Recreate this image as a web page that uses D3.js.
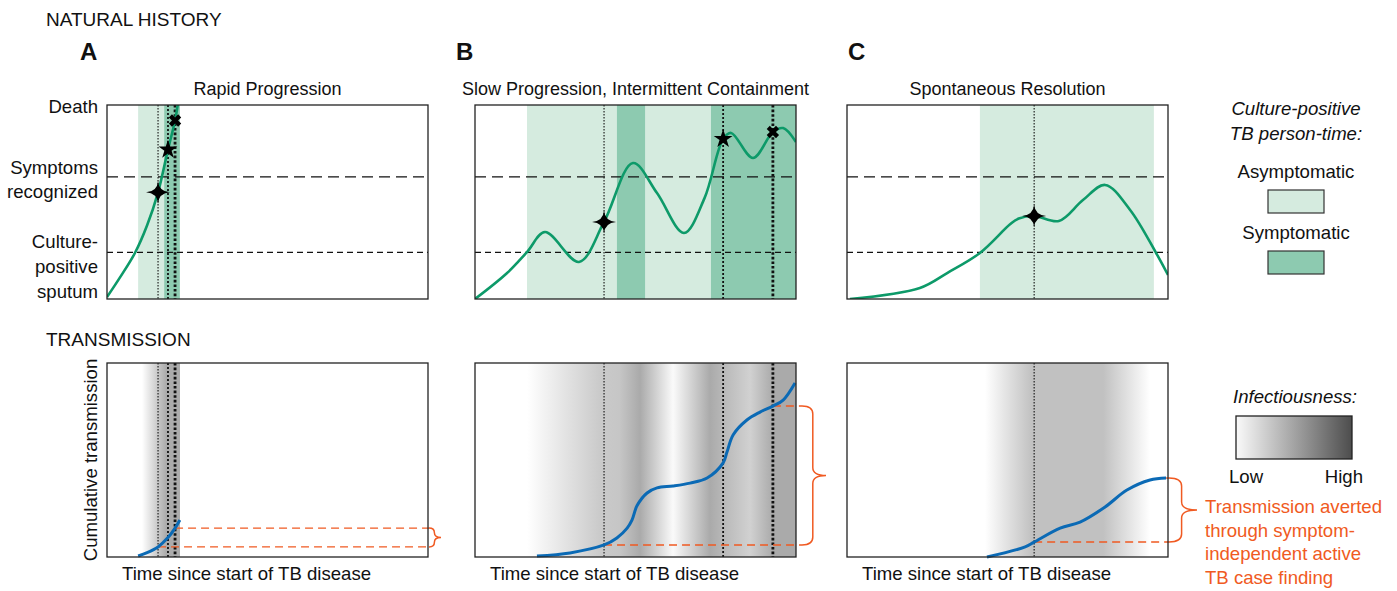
<!DOCTYPE html>
<html>
<head>
<meta charset="utf-8">
<script src="https://cdnjs.cloudflare.com/ajax/libs/d3/7.8.5/d3.min.js"></script>
<style>
  body { margin: 0; background: #fff; }
  svg { display: block; font-family: "Liberation Sans", Arial, Helvetica, sans-serif; }
</style>
</head>
<body>
<div id="chart"></div>
<script>
// ---- data (time and level in arbitrary units 0-100) ----
const panelIds = ["A", "B", "C"];
const panelTitles = ["Rapid Progression", "Slow Progression, Intermittent Containment", "Spontaneous Resolution"];
const cultureLevel = 24;
const symptomLevel = 63;
const eventTypes = ["onset", "symptoms", "death"];

// disease severity over time
const severityA = [[0,1],[4,11],[8.7,23.7],[12.5,38],[15.9,55],[19,77],[21.2,92],[22.2,102]];
const severityB = [[0,0],[10,13.4],[16.2,24.2],[21.8,34.5],[32.4,19.1],[40.2,39.7],[49.2,70.1],[56.7,54.6],
                   [65.1,34],[71.5,52],[77.3,82.5],[79.8,85.6],[86.6,72.7],[92.8,86.1],[96,88.1],[100,80.9]];
const severityC = [[0.9,0],[22.7,5.7],[31.2,13.4],[41.4,23.7],[50.8,38.5],[53.5,41.5],[58.3,42.8],[66,40.2],
                   [73.5,51],[80.4,58.8],[88.2,45.9],[96.3,23.7],[100,12.4]];

// event times (sparkle = onset, star = symptoms recognized, cross = death)
const eventsA = [15.9, 19, 21.2];
const eventsB = [40.2, 77.3, 92.8];
const eventsC = [58.3];

// culture-positive person-time
const asymptomaticA = [[9.7, 17.8]];
const symptomaticA = [[17.8, 22.7]];
const asymptomaticB = [[16.2, 44.2], [53, 73.5]];
const symptomaticB = [[44.2, 53], [73.5, 100]];
const asymptomaticC = [[41.4, 95.6]];
const symptomaticC = [];

// cumulative transmission
const transmissionA = [[9.7,0.5],[12.5,2.2],[15.9,5.2],[19,10],[21.2,14.9],[22.7,19.1]];
const transmissionB = [[19.3,0.5],[29.6,2.1],[40.2,6.2],[44.2,9.8],[47.4,14.9],[48.9,19],[50.5,26.5],[53.6,33],
                       [56.7,35.6],[61.7,36.6],[67,38.1],[72.3,40.7],[77.3,48.5],[78.5,54.1],[80.4,62.9],
                       [84.7,70.6],[88.8,74.7],[92.8,77.8],[96,80.9],[99.7,89.7]];
const transmissionC = [[43.6,0],[55.5,5.2],[58.3,7.7],[66.4,14.9],[72.6,18],[80.4,25.8],[87.2,34.5],[94.4,39.7],[99.4,40.7]];

// infectiousness (0 = none, 1 = high) along time
const infectiousA = [[0,0],[10.9,0],[16.5,0.35],[18.5,0.47],[22.7,0.47],[22.7,0],[100,0]];
const infectiousB = [[0,0],[16.2,0],[38.9,0.3],[45,0.32],[51.4,0.48],[61.7,0.03],[73.2,0.48],[77.3,0.4],
                     [85.7,0.26],[92.8,0.48],[100,0.48]];
const infectiousC = [[0,0],[43,0],[57.6,0.35],[79.8,0.35],[94.4,0],[100,0]];

// transmission averted: from first event to last event / end
const avertedA = [15.9, 21.2];
const avertedB = [40.2, 92.8];
const avertedC = [58.3, 99.4];

const legendItems = ["Asymptomatic", "Symptomatic"];
const averText = ["Transmission averted", "through symptom-", "independent active", "TB case finding"];

// ---- layout ----
const width = 1397, height = 591;
const W = 321, H = 194, TOP1 = 105, TOP2 = 363;
const panelLeft = [107, 475, 847];
const letterX = [80, 456, 848];
const braceGap = [1, 6, 1];
const braceW = [12, 24, 28];
const FS = 18.6;

const lightGreen = "#d5ebdf", darkGreen = "#8dcab0", lineGreen = "#0d9a69";
const blue = "#0b6ab5", orange = "#f05a22", ink = "#111";
const grey = d3.scaleLinear().domain([0, 1]).range(["#ffffff", "#4d4d4d"]);
const smooth = d3.curveCatmullRom.alpha(0.5);

const svg = d3.select("#chart").append("svg")
  .attr("width", width).attr("height", height)
  .attr("viewBox", [0, 0, width, height]);
const defs = svg.append("defs");

svg.append("text").attr("x", 46).attr("y", 26).attr("font-size", 19).attr("fill", ink).text("NATURAL HISTORY");
svg.append("text").attr("x", 46).attr("y", 346).attr("font-size", 19).attr("fill", ink).text("TRANSMISSION");

const data = [
  {sev: severityA, ev: eventsA, asym: asymptomaticA, sym: symptomaticA, tr: transmissionA, inf: infectiousA, av: avertedA},
  {sev: severityB, ev: eventsB, asym: asymptomaticB, sym: symptomaticB, tr: transmissionB, inf: infectiousB, av: avertedB},
  {sev: severityC, ev: eventsC, asym: asymptomaticC, sym: symptomaticC, tr: transmissionC, inf: infectiousC, av: avertedC}
];

const dotStyle = {
  onset:    {w: 1.1, dash: "1.5,1.5"},
  symptoms: {w: 1.8, dash: "2,2"},
  death:    {w: 2.8, dash: "2.6,2"}
};

function sparkle(r) {
  const a = r * 0.07, v = r * 0.95;
  return `M0,${-v}Q${a},${-a} ${r},0Q${a},${a} 0,${v}Q${-a},${a} ${-r},0Q${-a},${-a} 0,${-v}Z`;
}

function brace(x0, yT, yB, w) {
  const xs = x0 + w * 0.45, tip = x0 + w, mid = (yT + yB) / 2;
  const r = Math.min(8, (yB - yT) / 4);
  return `M${x0},${yT}Q${xs},${yT} ${xs},${yT + r}L${xs},${mid - r}Q${xs},${mid} ${tip},${mid}` +
         `Q${xs},${mid} ${xs},${mid + r}L${xs},${yB - r}Q${xs},${yB} ${x0},${yB}`;
}

const valueAt = (arr, t) => arr.find(d => d[0] === t)[1];

data.forEach((p, i) => {
  const L = panelLeft[i];
  const x = d3.scaleLinear().domain([0, 100]).range([L, L + W]);
  const yT = d3.scaleLinear().domain([0, 100]).range([TOP1 + H, TOP1]);
  const yB = d3.scaleLinear().domain([0, 100]).range([TOP2 + H, TOP2]);

  // letter and title
  svg.append("text").attr("x", letterX[i]).attr("y", 60).attr("font-size", 24).attr("font-weight", "bold")
    .attr("fill", ink).text(panelIds[i]);
  svg.append("text").attr("x", L + W / 2).attr("y", 95).attr("text-anchor", "middle").attr("font-size", 18)
    .attr("fill", ink).text(panelTitles[i]);

  // ---------- natural history ----------
  defs.append("clipPath").attr("id", "ct" + i).append("rect")
    .attr("x", L).attr("y", TOP1).attr("width", W).attr("height", H);
  const gt = svg.append("g").attr("clip-path", `url(#ct${i})`);

  gt.selectAll(".asym").data(p.asym).join("rect")
    .attr("x", d => x(d[0])).attr("width", d => x(d[1]) - x(d[0]))
    .attr("y", TOP1).attr("height", H).attr("fill", lightGreen);
  gt.selectAll(".sym").data(p.sym).join("rect")
    .attr("x", d => x(d[0])).attr("width", d => x(d[1]) - x(d[0]))
    .attr("y", TOP1).attr("height", H).attr("fill", darkGreen);

  gt.append("line").attr("x1", L).attr("x2", L + W).attr("y1", yT(symptomLevel)).attr("y2", yT(symptomLevel))
    .attr("stroke", ink).attr("stroke-width", 1.2).attr("stroke-dasharray", "11,6");
  gt.append("line").attr("x1", L).attr("x2", L + W).attr("y1", yT(cultureLevel)).attr("y2", yT(cultureLevel))
    .attr("stroke", ink).attr("stroke-width", 1.2).attr("stroke-dasharray", "6,4");

  gt.selectAll(".ev").data(p.ev).join("line")
    .attr("x1", d => x(d)).attr("x2", d => x(d)).attr("y1", TOP1).attr("y2", TOP1 + H)
    .attr("stroke", ink)
    .attr("stroke-width", (d, k) => dotStyle[eventTypes[k]].w)
    .attr("stroke-dasharray", (d, k) => dotStyle[eventTypes[k]].dash);

  gt.append("path").datum(p.sev)
    .attr("d", d3.line().x(d => x(d[0])).y(d => yT(d[1])).curve(smooth))
    .attr("fill", "none").attr("stroke", lineGreen).attr("stroke-width", 2.6);

  p.ev.forEach((t, k) => {
    const g = svg.append("g").attr("transform", `translate(${x(t)},${yT(valueAt(p.sev, t))})`);
    if (eventTypes[k] === "onset") {
      g.append("path").attr("d", sparkle(12)).attr("fill", "#000");
    } else if (eventTypes[k] === "symptoms") {
      g.append("path").attr("d", d3.symbol(d3.symbolStar, 110)()).attr("fill", "#000");
    } else {
      g.append("path").attr("d", d3.symbol(d3.symbolCross, 95)()).attr("transform", "rotate(45)").attr("fill", "#000");
    }
  });

  svg.append("rect").attr("x", L).attr("y", TOP1).attr("width", W).attr("height", H)
    .attr("fill", "none").attr("stroke", "#222").attr("stroke-width", 1.3);

  // ---------- transmission ----------
  const grad = defs.append("linearGradient").attr("id", "inf" + i)
    .attr("gradientUnits", "userSpaceOnUse")
    .attr("x1", x(0)).attr("x2", x(100)).attr("y1", 0).attr("y2", 0);
  grad.selectAll("stop").data(p.inf).join("stop")
    .attr("offset", d => d[0] / 100).attr("stop-color", d => grey(d[1]));

  svg.append("rect").attr("x", L).attr("y", TOP2).attr("width", W).attr("height", H).attr("fill", `url(#inf${i})`);

  svg.selectAll(null).data(p.ev).join("line")
    .attr("x1", d => x(d)).attr("x2", d => x(d)).attr("y1", TOP2).attr("y2", TOP2 + H)
    .attr("stroke", ink)
    .attr("stroke-width", (d, k) => dotStyle[eventTypes[k]].w)
    .attr("stroke-dasharray", (d, k) => dotStyle[eventTypes[k]].dash);

  const lo = valueAt(p.tr, p.av[0]), hi = valueAt(p.tr, p.av[1]);
  const bx = L + W + braceGap[i];
  [[p.av[0], lo], [p.av[1], hi]].forEach(d => {
    svg.append("line").attr("x1", x(d[0])).attr("x2", bx).attr("y1", yB(d[1])).attr("y2", yB(d[1]))
      .attr("stroke", orange).attr("stroke-width", 1.4).attr("stroke-dasharray", "8,5");
  });

  svg.append("path").datum(p.tr)
    .attr("d", d3.line().x(d => x(d[0])).y(d => yB(d[1])).curve(smooth))
    .attr("fill", "none").attr("stroke", blue).attr("stroke-width", 3);

  svg.append("rect").attr("x", L).attr("y", TOP2).attr("width", W).attr("height", H)
    .attr("fill", "none").attr("stroke", "#222").attr("stroke-width", 1.3);

  svg.append("path").attr("d", brace(bx, yB(hi), yB(lo), braceW[i]))
    .attr("fill", "none").attr("stroke", orange).attr("stroke-width", 1.5);

  svg.append("text").attr("x", L + 15).attr("y", 580).attr("font-size", FS).attr("fill", ink)
    .text("Time since start of TB disease");
});

// y-axis labels of natural history (panel A)
const y0 = d3.scaleLinear().domain([0, 100]).range([TOP1 + H, TOP1]);
const yl = svg.append("g").attr("text-anchor", "end").attr("font-size", FS).attr("fill", ink);
yl.append("text").attr("x", 98).attr("y", y0(100) + 8).text("Death");
yl.append("text").attr("x", 98).attr("y", y0(symptomLevel) - 3).text("Symptoms");
yl.append("text").attr("x", 98).attr("y", y0(symptomLevel) + 21).text("recognized");
yl.append("text").attr("x", 98).attr("y", y0(cultureLevel) - 4).text("Culture-");
yl.append("text").attr("x", 98).attr("y", y0(cultureLevel) + 21).text("positive");
yl.append("text").attr("x", 98).attr("y", y0(cultureLevel) + 46).text("sputum");

svg.append("text").attr("transform", `translate(97,${TOP2 + H / 2}) rotate(-90)`)
  .attr("text-anchor", "middle").attr("font-size", FS).attr("fill", ink).text("Cumulative transmission");

// legend: culture-positive person-time
const lg = svg.append("g").attr("font-size", FS).attr("fill", ink).attr("text-anchor", "middle");
lg.append("text").attr("x", 1296).attr("y", 115).attr("font-style", "italic").text("Culture-positive");
lg.append("text").attr("x", 1296).attr("y", 140).attr("font-style", "italic").text("TB person-time:");
legendItems.forEach((name, k) => {
  lg.append("text").attr("x", 1296).attr("y", 178 + k * 61).text(name);
  lg.append("rect").attr("x", 1268).attr("y", 190 + k * 61).attr("width", 56).attr("height", 23)
    .attr("fill", k === 0 ? lightGreen : darkGreen).attr("stroke", "#333").attr("stroke-width", 1.2);
});

// legend: infectiousness
const lgr = defs.append("linearGradient").attr("id", "legGrad");
lgr.selectAll("stop").data([0, 1]).join("stop")
  .attr("offset", d => d).attr("stop-color", d => grey(d === 0 ? 0.03 : 1));
svg.append("text").attr("x", 1295).attr("y", 403).attr("text-anchor", "middle").attr("font-size", FS)
  .attr("font-style", "italic").attr("fill", ink).text("Infectiousness:");
svg.append("rect").attr("x", 1236).attr("y", 416).attr("width", 116).attr("height", 43)
  .attr("fill", "url(#legGrad)").attr("stroke", "#222").attr("stroke-width", 1.3);
svg.append("text").attr("x", 1229).attr("y", 483).attr("font-size", FS).attr("fill", ink).text("Low");
svg.append("text").attr("x", 1363).attr("y", 483).attr("text-anchor", "end").attr("font-size", FS).attr("fill", ink).text("High");

// orange annotation
const ot = svg.append("g").attr("font-size", FS).attr("fill", orange);
averText.forEach((s, k) => {
  ot.append("text").attr("x", 1205).attr("y", 513 + k * 23.5).text(s);
});
</script>
</body>
</html>
